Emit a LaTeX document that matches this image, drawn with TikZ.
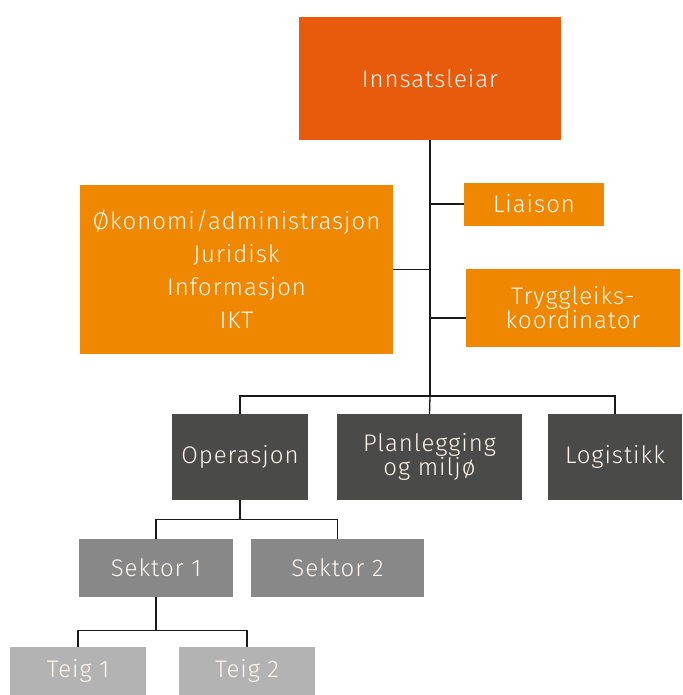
\documentclass[tikz,border=0pt]{standalone}
\usepackage{fontspec}
\setmainfont{Fira Sans}[UprightFont=* Light, LetterSpace=4]
\definecolor{leadred}{HTML}{E85B0D}
\definecolor{staffor}{HTML}{F08700}
\definecolor{darkbox}{HTML}{4A4A48}
\definecolor{midbox}{HTML}{888888}
\definecolor{lightbox}{HTML}{B3B3B3}
\definecolor{linecol}{HTML}{1A1A1A}
\definecolor{boxtext}{HTML}{FFF6EE}
\tikzset{
  orgbox/.style={rectangle, inner sep=0pt, text=boxtext, align=center,
    font=\fontsize{24}{24}\selectfont},
  conn/.style={draw=linecol, line width=1.3pt},
  mainconn/.style={draw=linecol, line width=2pt},
}
\begin{document}
\begin{tikzpicture}[x=1pt,y=-1pt]
\useasboundingbox (0,0) rectangle (682,695);
\node[orgbox, fill=leadred, minimum width=262pt, minimum height=123pt] (inn) at (430,78.5) {Innsatsleiar};
\node[orgbox, fill=staffor, minimum width=140pt, minimum height=43pt] (lia) at (534,204) {Liaison};
\node[orgbox, fill=staffor, minimum width=313pt, minimum height=169pt, font=\fontsize{24}{33}\selectfont] (oko) at (236.5,269.5) {Økonomi/administrasjon\\Juridisk\\Informasjon\\IKT};
\node[orgbox, fill=staffor, minimum width=214pt, minimum height=78pt] (try) at (573,308) {Tryggleiks-\\koordinator};
\node[orgbox, fill=darkbox, minimum width=136pt, minimum height=86pt] (ope) at (240,457) {Operasjon};
\node[orgbox, fill=darkbox, minimum width=185pt, minimum height=86pt] (pla) at (429.5,457) {Planlegging\\og miljø};
\node[orgbox, fill=darkbox, minimum width=134pt, minimum height=86pt] (log) at (615,457) {Logistikk};
\node[orgbox, fill=midbox, minimum width=154pt, minimum height=58pt] (s1) at (156,568) {Sektor 1};
\node[orgbox, fill=midbox, minimum width=173pt, minimum height=58pt] (s2) at (337.5,568) {Sektor 2};
\node[orgbox, fill=lightbox, minimum width=136pt, minimum height=48pt] (t1) at (78,671) {Teig 1};
\node[orgbox, fill=lightbox, minimum width=136pt, minimum height=48pt] (t2) at (247,671) {Teig 2};
% hub coordinates
\coordinate (bar) at (430,396);
\coordinate (trybranch) at (466,318);
% main trunk
\draw[mainconn] (inn.south) -- (bar);
\draw[conn] (inn.south |- lia.west) -- (lia.west);
\draw[conn] (oko.east) -- (inn.south |- oko.east);
\draw[conn] (inn.south |- trybranch) -- (trybranch);
\draw[conn] (bar) -| (ope.north);
\draw[conn] (bar) -| (log.north);
\draw[conn] (bar) -- (pla.north);
% operasjon
\draw[conn] (ope.south) -- ++(0,19) -| (s1.north);
\draw[conn] (ope.south) -- ++(0,19) -| (s2.north);
% sektor 1
\draw[conn] (s1.south) -- ++(0,33) -| (t1.north);
\draw[conn] (s1.south) -- ++(0,33) -| (t2.north);
\end{tikzpicture}
\end{document}
